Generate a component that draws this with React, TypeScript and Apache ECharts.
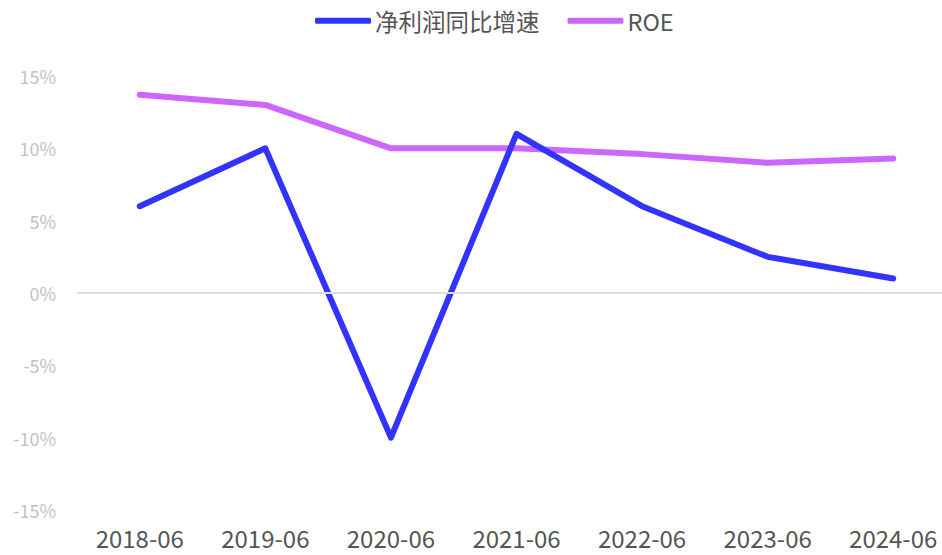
import React, { useEffect, useRef } from "react";
import * as echarts from "echarts";

const categories = ["2018-06", "2019-06", "2020-06", "2021-06", "2022-06", "2023-06", "2024-06"];
const profitGrowth = [6, 10, -10, 11, 6, 2.5, 1];
const roe = [13.7, 13, 10, 10, 9.6, 9, 9.3];
const seriesNames = ["净利润同比增速", "ROE"];

export default function App() {
  const ref = useRef<HTMLDivElement>(null);
  useEffect(() => {
    const chart = echarts.init(ref.current!, null, { renderer: "svg" });
    chart.setOption({
      animation: false,
      textStyle: { fontFamily: "Noto Sans CJK SC" },
      legend: {
        top: 9,
        left: 315,
        padding: 0,
        itemWidth: 56,
        itemHeight: 6,
        itemGap: 28,
        textStyle: { fontSize: 23.5, color: "#555", fontFamily: "Noto Sans CJK SC", padding: [0, 0, 0, -1] },
        data: seriesNames.map((n) => ({ name: n, icon: "roundRect" })),
      },
      grid: { left: 77, right: 0, top: 76, bottom: 45, containLabel: false },
      xAxis: {
        type: "category",
        data: categories,
        boundaryGap: true,
        axisLine: { show: false },
        axisTick: { show: false },
        axisLabel: { fontSize: 24, lineHeight: 24, color: "#555", margin: 15, fontFamily: "Noto Sans CJK SC" },
      },
      yAxis: {
        type: "value",
        min: -15,
        max: 15,
        interval: 5,
        splitLine: { show: false },
        axisLine: { show: false },
        axisTick: { show: false },
        axisLabel: { formatter: "{value}%", fontSize: 18, color: "#c2c2c2", margin: 21, fontFamily: "Noto Sans CJK SC" },
      },
      series: [
        {
          name: seriesNames[0],
          type: "line",
          data: profitGrowth,
          showSymbol: false,
          symbol: "none",
          lineStyle: { width: 6, color: "#3333ff", cap: "round", join: "round" },
          itemStyle: { color: "#3333ff" },
          z: 3,
          markLine: {
            silent: true,
            symbol: "none",
            label: { show: false },
            lineStyle: { color: "#dddddd", width: 2, type: "solid" },
            data: [{ yAxis: 0 }],
          },
        },
        {
          name: seriesNames[1],
          type: "line",
          data: roe,
          showSymbol: false,
          symbol: "none",
          lineStyle: { width: 6, color: "#cc66ff", cap: "round", join: "round" },
          itemStyle: { color: "#cc66ff" },
          z: 2,
        },
      ],
    });
    return () => chart.dispose();
  }, []);
  return (
    <div style={{ position: "absolute", left: 0, top: 0, width: 942, height: 555, overflow: "hidden" }}>
      <div ref={ref} style={{ width: 956, height: 555 }} />
    </div>
  );
}
